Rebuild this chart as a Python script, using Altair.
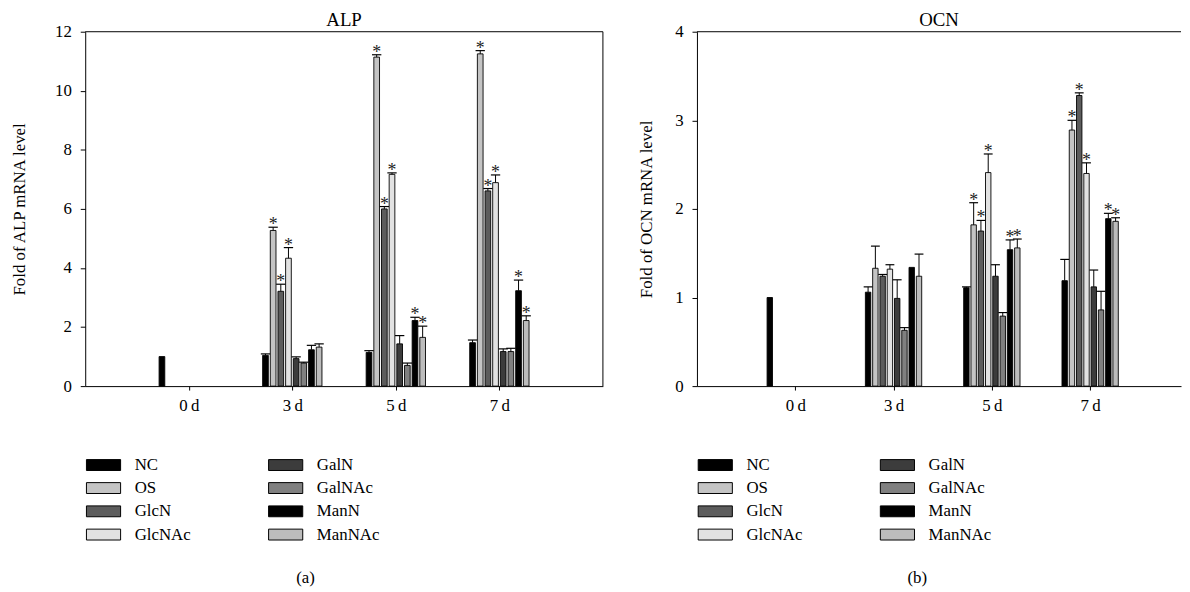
import altair as alt
import pandas as pd

SERIF = "Liberation Serif"

series = ["NC", "OS", "GlcN", "GlcNAc", "GalN", "GalNAc", "ManN", "ManNAc"]
series_colors = ["#000000", "#c4c4c4", "#5c5c5c", "#e2e2e2", "#3c3c3c", "#808080", "#000000", "#bcbcbc"]
day_labels = ["0\u2009d", "3\u2009d", "5\u2009d", "7\u2009d"]

# ALP: mean values per series at 0, 3, 5, 7 days
alp_NC = [1.00, 1.04, 1.14, 1.47]
alp_OS = [0, 5.27, 11.14, 11.25]
alp_GlcN = [0, 3.21, 6.00, 6.61]
alp_GlcNAc = [0, 4.33, 7.17, 6.89]
alp_GalN = [0, 0.93, 1.43, 1.17]
alp_GalNAc = [0, 0.78, 0.70, 1.17]
alp_ManN = [0, 1.23, 2.22, 3.23]
alp_ManNAc = [0, 1.32, 1.65, 2.22]
# ALP: error (upper) per series
alp_err_NC = [0, 0.05, 0.06, 0.09]
alp_err_OS = [0, 0.11, 0.08, 0.11]
alp_err_GlcN = [0, 0.24, 0.08, 0.08]
alp_err_GlcNAc = [0, 0.36, 0.05, 0.26]
alp_err_GalN = [0, 0.06, 0.28, 0.09]
alp_err_GalNAc = [0, 0.03, 0.08, 0.11]
alp_err_ManN = [0, 0.15, 0.11, 0.36]
alp_err_ManNAc = [0, 0.11, 0.38, 0.16]
# ALP: significance markers
alp_sig_NC = [0, 0, 0, 0]
alp_sig_OS = [0, 1, 1, 1]
alp_sig_GlcN = [0, 1, 1, 1]
alp_sig_GlcNAc = [0, 1, 1, 1]
alp_sig_GalN = [0, 0, 0, 0]
alp_sig_GalNAc = [0, 0, 0, 0]
alp_sig_ManN = [0, 0, 1, 1]
alp_sig_ManNAc = [0, 0, 1, 1]

# OCN
ocn_NC = [1.00, 1.06, 1.11, 1.19]
ocn_OS = [0, 1.33, 1.82, 2.89]
ocn_GlcN = [0, 1.24, 1.75, 3.28]
ocn_GlcNAc = [0, 1.32, 2.41, 2.40]
ocn_GalN = [0, 0.99, 1.24, 1.12]
ocn_GalNAc = [0, 0.63, 0.79, 0.86]
ocn_ManN = [0, 1.34, 1.54, 1.89]
ocn_ManNAc = [0, 1.24, 1.56, 1.86]
ocn_err_NC = [0, 0.06, 0.01, 0.24]
ocn_err_OS = [0, 0.25, 0.25, 0.11]
ocn_err_GlcN = [0, 0.02, 0.12, 0.03]
ocn_err_GlcNAc = [0, 0.05, 0.21, 0.12]
ocn_err_GalN = [0, 0.21, 0.13, 0.19]
ocn_err_GalNAc = [0, 0.03, 0.04, 0.21]
ocn_err_ManN = [0, 0.0, 0.11, 0.06]
ocn_err_ManNAc = [0, 0.25, 0.10, 0.04]
ocn_sig_NC = [0, 0, 0, 0]
ocn_sig_OS = [0, 0, 1, 1]
ocn_sig_GlcN = [0, 0, 1, 1]
ocn_sig_GlcNAc = [0, 0, 1, 1]
ocn_sig_GalN = [0, 0, 0, 0]
ocn_sig_GalNAc = [0, 0, 0, 0]
ocn_sig_ManN = [0, 0, 1, 1]
ocn_sig_ManNAc = [0, 0, 1, 1]

alp_means = [alp_NC, alp_OS, alp_GlcN, alp_GlcNAc, alp_GalN, alp_GalNAc, alp_ManN, alp_ManNAc]
alp_errs = [alp_err_NC, alp_err_OS, alp_err_GlcN, alp_err_GlcNAc, alp_err_GalN, alp_err_GalNAc, alp_err_ManN, alp_err_ManNAc]
alp_sigs = [alp_sig_NC, alp_sig_OS, alp_sig_GlcN, alp_sig_GlcNAc, alp_sig_GalN, alp_sig_GalNAc, alp_sig_ManN, alp_sig_ManNAc]
ocn_means = [ocn_NC, ocn_OS, ocn_GlcN, ocn_GlcNAc, ocn_GalN, ocn_GalNAc, ocn_ManN, ocn_ManNAc]
ocn_errs = [ocn_err_NC, ocn_err_OS, ocn_err_GlcN, ocn_err_GlcNAc, ocn_err_GalN, ocn_err_GalNAc, ocn_err_ManN, ocn_err_ManNAc]
ocn_sigs = [ocn_sig_NC, ocn_sig_OS, ocn_sig_GlcN, ocn_sig_GlcNAc, ocn_sig_GalN, ocn_sig_GalNAc, ocn_sig_ManN, ocn_sig_ManNAc]

SLOT = 0.074   # spacing between bars within a day group (x units)
BW = 0.055     # bar width (x units)
CAP = 0.09     # error cap width (x units)


def build(means, errs, sigs):
    rows = []
    for si, s in enumerate(series):
        for d in range(len(day_labels)):
            c = d + (si - 3.5) * SLOT
            v = means[si][d]
            e = errs[si][d]
            rows.append(dict(series=s, day=d, xl=c - BW / 2, xr=c + BW / 2, xc=c,
                             cl=c - CAP / 2, cr=c + CAP / 2, v=v, top=v + e, err=e,
                             sig=sigs[si][d]))
    return pd.DataFrame(rows)


label_expr = "[" + ",".join("'%s'" % d for d in day_labels) + "][round(datum.value)]"


def panel(df, title, ymax, ystep, ytitle, xmax, sub, width, right_border, ytitle_pad):
    xs = alt.Scale(domain=[-1, xmax], nice=False, zero=False)
    ys = alt.Scale(domain=[0, ymax], nice=False)
    base = alt.Chart(df)
    bars = base.transform_filter("datum.v > 0").mark_bar(stroke="black", strokeWidth=0.9).encode(
        x=alt.X("xl:Q", scale=xs, axis=alt.Axis(values=[0, 1, 2, 3], labelExpr=label_expr,
                                                 title=sub, tickSize=4, labelPadding=8,
                                                 titlePadding=157, titleX=222)),
        x2="xr:Q",
        y=alt.Y("v:Q", scale=ys, axis=alt.Axis(values=list(range(0, ymax + 1, ystep)), format="d",
                                                title=ytitle, tickSize=5, labelPadding=9,
                                                titlePadding=ytitle_pad)),
        y2=alt.datum(0),
        color=alt.Color("series:N", scale=alt.Scale(domain=series, range=series_colors),
                        legend=alt.Legend(title=None, orient="none", legendX=8, legendY=427,
                                          columns=2, symbolType="M-1.725,-0.55L1.725,-0.55L1.725,0.55L-1.725,0.55Z",
                                          symbolSize=400, symbolStrokeColor="black",
                                          symbolStrokeWidth=1, labelFont=SERIF, labelFontSize=17,
                                          labelColor="black", labelOffset=21, rowPadding=4.5,
                                          columnPadding=76)),
    )
    efilt = base.transform_filter("datum.err > 0")
    eline = efilt.mark_rule(color="black", strokeWidth=1).encode(x="xc:Q", y="v:Q", y2="top:Q")
    ecap = efilt.mark_rule(color="black", strokeWidth=1.2).encode(x="cl:Q", x2="cr:Q", y="top:Q")
    stars = base.transform_filter("datum.sig == 1").mark_text(
        text="*", font=SERIF, fontSize=18, baseline="alphabetic", dy=3, color="#222"
    ).encode(x="xc:Q", y="top:Q")
    top = alt.Chart(pd.DataFrame({"t": [ymax]})).mark_rule(color="black", strokeWidth=1).encode(y="t:Q")
    layers = [bars, eline, ecap, stars, top]
    if right_border:
        layers.append(alt.Chart(pd.DataFrame({"r": [xmax]})).mark_rule(color="black", strokeWidth=1).encode(x="r:Q"))
    return alt.layer(*layers).properties(
        width=width, height=358,
        title=alt.TitleParams(title, font=SERIF, fontSize=19, fontWeight="normal", color="black", offset=-7),
    )


left = panel(build(alp_means, alp_errs, alp_sigs), "ALP", 12, 2, "Fold of ALP mRNA level", 4, "(a)", 523, True, 26)
right = panel(build(ocn_means, ocn_errs, ocn_sigs), "OCN", 4, 1, "Fold of OCN mRNA level",
              -1 + 489 / 99.3, "(b)", 489, False, 19)

chart = alt.hconcat(left, right, spacing=34).resolve_scale(
    color="independent", x="independent", y="independent"
).resolve_legend(color="independent").properties(
    padding={"left": 3, "top": 0, "right": 0, "bottom": 0}
).configure_view(stroke=None).configure_axis(
    grid=False, domainColor="black", tickColor="black", labelColor="black", titleColor="black",
    labelFont=SERIF, titleFont=SERIF, labelFontSize=17, titleFontSize=17, titleFontWeight="normal",
    domainWidth=1, tickWidth=1
)

chart.save("out.html", embed_options={"renderer": "svg", "actions": False})
